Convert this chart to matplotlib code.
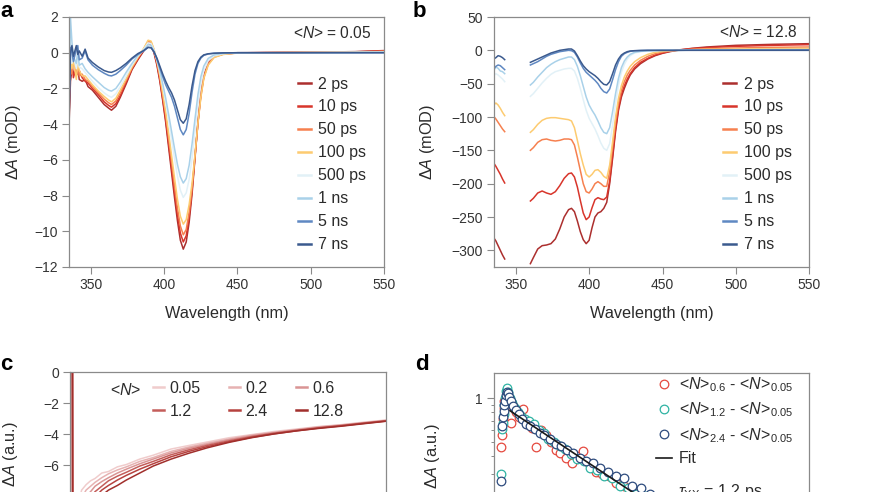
import numpy as np
import matplotlib
matplotlib.use('Agg')
import matplotlib.pyplot as plt
from matplotlib.ticker import FuncFormatter, NullFormatter, LogLocator

plt.rcParams['font.family'] = ['Liberation Sans', 'DejaVu Sans']
plt.rcParams['mathtext.fontset'] = 'custom'
plt.rcParams['mathtext.rm'] = 'Liberation Sans'
plt.rcParams['mathtext.it'] = 'Liberation Sans:italic'

# ---------------- panel a: <N> = 0.05 ----------------
wl_a = [335, 336, 337, 338, 340, 341, 342, 344, 346, 348, 351, 355, 359, 362, 364, 367, 370, 374, 378, 382,
        386, 389, 391, 393, 395, 397, 399, 401, 403, 405, 407, 409, 411, 413, 415, 417, 419, 421, 423, 425,
        427, 430, 434, 440, 450, 470, 500, 530, 550]
a_2ps = [-4.1, -1.6, -0.9, -1.1, -1.3, -0.9, -1.5, -1.6, -1.5, -1.9, -2.1, -2.5, -2.9, -3.1, -3.22, -3.0, -2.5, -1.75, -0.95, -0.4,
         0.1, 0.5, 0.45, 0.0, -0.7, -1.6, -2.7, -3.9, -5.3, -6.7, -8.1, -9.4, -10.5, -11.0, -10.6, -9.5, -7.9, -5.9, -3.9, -2.3,
         -1.3, -0.55, -0.2, -0.07, 0.0, 0.01, 0.03, 0.06, 0.12]
a_10ps = [-3.6, -1.2, -0.5, -1.4, -0.8, -1.2, -1.0, -1.4, -1.6, -1.7, -2.0, -2.35, -2.75, -2.95, -3.05, -2.85, -2.4, -1.65, -0.9, -0.35,
          0.15, 0.55, 0.5, 0.05, -0.6, -1.5, -2.6, -3.75, -5.1, -6.45, -7.8, -9.05, -10.1, -10.6, -10.25, -9.2, -7.7, -5.8, -3.9, -2.35,
          -1.35, -0.6, -0.22, -0.08, -0.01, 0.01, 0.03, 0.05, 0.1]
a_50ps = [-2.8, -0.8, -1.2, -0.5, -1.1, -0.7, -1.3, -1.2, -1.5, -1.6, -1.9, -2.25, -2.6, -2.8, -2.9, -2.7, -2.25, -1.55, -0.85, -0.3,
          0.2, 0.65, 0.6, 0.15, -0.5, -1.35, -2.4, -3.5, -4.8, -6.1, -7.45, -8.7, -9.7, -10.2, -9.9, -8.95, -7.6, -5.8, -3.95, -2.45,
          -1.4, -0.65, -0.25, -0.09, -0.01, 0.0, 0.02, 0.04, 0.08]
a_100ps = [-2.2, -0.3, -0.9, -0.4, -1.5, -0.6, -1.0, -1.3, -1.3, -1.5, -1.8, -2.15, -2.45, -2.65, -2.75, -2.55, -2.1, -1.45, -0.8, -0.25,
           0.25, 0.7, 0.65, 0.2, -0.45, -1.25, -2.25, -3.3, -4.5, -5.75, -7.0, -8.2, -9.15, -9.6, -9.35, -8.5, -7.3, -5.7, -3.95, -2.5,
           -1.45, -0.7, -0.27, -0.1, -0.02, 0.0, 0.02, 0.03, 0.06]
a_500ps = [-1.5, 0.5, -0.6, -0.2, -0.9, -0.3, -0.8, -0.9, -1.1, -1.3, -1.6, -1.95, -2.25, -2.42, -2.5, -2.3, -1.9, -1.3, -0.7, -0.2,
           0.2, 0.55, 0.5, 0.15, -0.4, -1.05, -1.9, -2.8, -3.8, -4.85, -5.9, -6.9, -7.7, -8.1, -7.85, -7.1, -5.9, -4.4, -2.9, -1.75,
           -1.0, -0.45, -0.18, -0.06, -0.01, 0.0, 0.01, 0.02, 0.04]
a_1ns = [-3.0, 2.0, 0.6, -0.2, -0.6, 0.1, -0.7, -0.6, -0.9, -1.1, -1.35, -1.65, -1.95, -2.1, -2.15, -2.0, -1.65, -1.1, -0.6, -0.15,
         0.15, 0.45, 0.42, 0.1, -0.4, -1.0, -1.75, -2.55, -3.45, -4.4, -5.35, -6.25, -6.95, -7.3, -7.05, -6.3, -5.1, -3.7, -2.35, -1.35,
         -0.75, -0.32, -0.12, -0.04, 0.0, 0.0, 0.01, 0.02, 0.03]
a_5ns = [-3.5, 0.3, 0.0, -0.5, 0.2, 0.4, -0.4, -0.3, 0.1, -0.4, -0.7, -0.95, -1.15, -1.27, -1.3, -1.2, -1.0, -0.7, -0.35, -0.1,
         0.1, 0.3, 0.28, 0.05, -0.35, -0.85, -1.35, -1.8, -2.15, -2.5, -3.0, -3.65, -4.3, -4.6, -4.3, -3.4, -2.2, -1.2, -0.6, -0.3,
         -0.15, -0.07, -0.03, -0.01, 0.0, 0.0, 0.0, 0.0, 0.0]
a_7ns = [-4.0, 0.0, 0.4, -0.2, 0.4, -0.1, 0.1, -0.2, 0.2, -0.3, -0.55, -0.8, -1.0, -1.08, -1.1, -1.0, -0.85, -0.6, -0.3, -0.05,
         0.12, 0.3, 0.28, 0.05, -0.3, -0.75, -1.2, -1.6, -1.95, -2.25, -2.65, -3.2, -3.75, -3.95, -3.7, -2.9, -1.85, -1.0, -0.5, -0.25,
         -0.12, -0.06, -0.03, -0.01, 0.0, 0.0, 0.0, 0.0, 0.0]

# ---------------- panel b: <N> = 12.8 (gap 343-360 nm) ----------------
wl_b = [335, 336.5, 338, 339.5, 341, 342.5, None,
        360, 362, 365, 368, 371, 374, 377, 380, 383, 386, 388, 390, 392, 394, 396, 398, 400, 402, 404, 406,
        408, 410, 412, 414, 416, 418, 420, 422, 424, 426, 428, 431, 435, 440, 445, 450, 455, 460, 470, 480,
        500, 525, 550]
b_2ps = [-281, -286, -293, -300, -307, -313, None,
         -320, -311, -298, -293, -292, -290, -283, -268, -250, -239, -237, -242, -256, -272, -284, -290, -285, -266, -250, -244,
         -242, -237, -228, -200, -162, -122, -90, -70, -57, -46, -37, -28, -20, -13, -8, -4.5, -2, 0, 3, 5,
         7.5, 9, 10]
b_10ps = [-169, -174, -180, -186, -193, -199, None,
          -226, -222, -214, -211, -214, -216, -212, -203, -192, -185, -184, -190, -205, -225, -244, -254, -250, -236, -224, -221,
          -223, -224, -220, -196, -158, -118, -87, -66, -53, -43, -35, -26, -18, -12, -7, -4, -1.5, 0.5, 2.5, 4,
          6, 7.5, 8.5]
b_50ps = [-99, -103, -108, -113, -118, -122, None,
          -150, -146, -138, -134, -133, -135, -136, -135, -133, -133, -134, -142, -160, -180, -200, -212, -214, -208, -200, -197,
          -200, -204, -204, -182, -145, -108, -80, -60, -47, -37, -30, -22, -15, -9, -5, -2.5, -1, 0, 1.5, 2.5,
          3.5, 4.5, 5]
b_100ps = [-82, -79, -82, -87, -93, -98, None,
           -123, -119, -111, -105, -102, -101, -101, -102, -103, -104, -106, -116, -135, -155, -172, -186, -190, -186, -180, -179,
           -183, -189, -192, -172, -137, -100, -72, -53, -40, -31, -24, -17, -11, -6, -3, -1.5, -0.5, 0, 1, 1.5,
           2, 2.5, 3]
b_500ps = [-38, -35, -37, -40, -43, -47, None,
           -69, -65, -57, -49, -42, -36, -32, -30, -28, -27, -27, -31, -42, -57, -74, -90, -102, -110, -118, -128,
           -139, -147, -150, -140, -112, -80, -52, -33, -21, -13, -8, -4, -2, -1, -0.5, 0, 0, 0, 0.5, 0.5,
           1, 1, 1]
b_1ns = [-30, -25, -27, -31, -32, -35, None,
         -52, -48, -40, -33, -26, -21, -17, -14, -12, -10, -10, -14, -24, -38, -54, -70, -82, -90, -97, -106,
         -116, -123, -125, -116, -92, -65, -42, -26, -16, -10, -6, -3, -1.5, -0.8, -0.4, 0, 0, 0, 0.3, 0.5,
         0.8, 1, 1]
b_5ns = [-28, -24, -22, -23, -26, -29, None,
         -22, -20, -17, -13, -9, -6, -4, -2, -1, 0, -0.5, -3, -10, -19, -27, -33, -37, -41, -45, -50,
         -57, -62, -64, -58, -44, -29, -17, -9, -5, -3, -1.5, -0.7, -0.3, 0, 0, 0, 0, 0, 0.2, 0.3,
         0.5, 0.6, 0.7]
b_7ns = [-13, -11, -8, -9, -11, -14, None,
         -18, -16, -13, -10, -7, -4, -2, 0, 1, 2, 2, -1, -8, -16, -23, -28, -32, -35, -38, -42,
         -47, -51, -52, -47, -35, -22, -13, -7, -4, -2, -1, -0.5, -0.2, 0, 0, 0, 0, 0, 0, 0,
         0, 0, 0]

delay_labels = ['2 ps', '10 ps', '50 ps', '100 ps', '500 ps', '1 ns', '5 ns', '7 ns']
delay_colors = ['#ac2f2e', '#d8352b', '#f6804f', '#fdcb70', '#e2f1f7', '#a9d1e9', '#5f88c2', '#3b5a8e']

# ---------------- panel c: kinetics vs <N> ----------------
t_c = [-60, -5, 0, 50, 100, 200, 300, 400, 500, 650, 800, 1000, 1200, 1500, 1800, 2200, 2600, 3000,
       3500, 4000, 4500, 5000, 5500, 6000, 6500, 7000]
c_005 = [0, 0, -10.5, -9.6, -8.8, -7.6, -7.25, -7.0, -6.85, -6.5, -6.4, -6.1, -5.95, -5.6, -5.35, -4.95, -4.72, -4.5,
         -4.22, -4.02, -3.82, -3.66, -3.5, -3.38, -3.22, -3.08]
c_02 = [0, 0, -10.8, -10.0, -9.2, -8.1, -7.6, -7.35, -7.1, -6.8, -6.55, -6.3, -6.1, -5.75, -5.5, -5.1, -4.82, -4.58,
        -4.3, -4.05, -3.87, -3.7, -3.52, -3.4, -3.25, -3.1]
c_06 = [0, 0, -11.0, -10.3, -9.6, -8.6, -8.0, -7.7, -7.35, -7.05, -6.8, -6.5, -6.25, -5.9, -5.6, -5.2, -4.9, -4.65,
        -4.35, -4.1, -3.9, -3.72, -3.55, -3.42, -3.27, -3.12]
c_12 = [0, 0, -11.2, -10.6, -10.0, -9.1, -8.5, -8.1, -7.7, -7.35, -7.0, -6.7, -6.45, -6.05, -5.75, -5.32, -5.0, -4.72,
        -4.42, -4.15, -3.93, -3.75, -3.58, -3.44, -3.28, -3.13]
c_24 = [0, 0, -11.4, -10.9, -10.4, -9.5, -8.9, -8.5, -8.05, -7.6, -7.3, -6.95, -6.65, -6.25, -5.9, -5.45, -5.1, -4.8,
        -4.48, -4.2, -3.97, -3.78, -3.6, -3.46, -3.3, -3.15]
c_128 = [0, 0, -11.6, -11.2, -10.8, -9.9, -9.3, -8.8, -8.35, -7.95, -7.6, -7.3, -6.95, -6.5, -6.05, -5.6, -5.22, -4.88,
         -4.52, -4.22, -3.98, -3.78, -3.62, -3.48, -3.32, -3.16]
n_labels = ['0.05', '0.2', '0.6', '1.2', '2.4', '12.8']
n_colors = ['#f0cccc', '#e6b2b2', '#d99494', '#c45d5a', '#b6423f', '#a12f2c']

# ---------------- panel d: difference kinetics ----------------
t_d06 = [0.09, 0.10, 0.11, 0.12, 0.13, 0.15, 0.17, 0.19, 0.21, 0.24, 0.27, 0.31, 0.36, 0.41, 0.47, 0.53, 0.59, 0.65,
         0.71, 0.77, 0.83, 0.90, 0.97, 1.04, 1.11, 1.19, 1.27, 1.35, 1.44, 1.53, 1.62, 1.72, 1.82, 1.93, 2.05, 2.2,
         2.4, 2.6, 2.8, 3.0]
v_d06 = [0.46, 0.56, 0.72, 0.85, 0.95, 1.02, 0.96, 0.92, 0.68, 0.88, 0.80, 0.74, 0.84, 0.66, 0.62, 0.46, 0.60, 0.56,
         0.50, 0.44, 0.42, 0.39, 0.36, 0.40, 0.43, 0.36, 0.31, 0.30, 0.29, 0.26, 0.25, 0.23, 0.22, 0.20, 0.19, 0.17,
         0.14, 0.12, 0.11, 0.09]
t_d12 = [0.09, 0.10, 0.11, 0.12, 0.13, 0.14, 0.15, 0.16, 0.18, 0.20, 0.23, 0.26, 0.30, 0.34, 0.39, 0.44, 0.50, 0.56,
         0.62, 0.68, 0.75, 0.82, 0.89, 0.96, 1.04, 1.12, 1.20, 1.29, 1.38, 1.47, 1.57, 1.67, 1.78, 1.89, 2.0, 2.2,
         2.4, 2.6, 2.8, 3.0]
v_d12 = [0.30, 0.61, 0.68, 0.78, 0.90, 1.00, 1.12, 1.18, 1.10, 1.00, 0.92, 0.85, 0.80, 0.76, 0.72, 0.70, 0.66, 0.60,
         0.58, 0.52, 0.50, 0.47, 0.45, 0.41, 0.38, 0.37, 0.33, 0.32, 0.29, 0.28, 0.25, 0.24, 0.22, 0.21, 0.19, 0.16,
         0.14, 0.12, 0.10, 0.09]
t_d24 = [0.09, 0.10, 0.11, 0.12, 0.13, 0.14, 0.15, 0.16, 0.17, 0.19, 0.21, 0.24, 0.27, 0.31, 0.35, 0.40, 0.45, 0.51,
         0.57, 0.63, 0.70, 0.77, 0.84, 0.91, 0.99, 1.07, 1.15, 1.24, 1.33, 1.42, 1.52, 1.62, 1.73, 1.84, 1.95, 2.1,
         2.3, 2.5, 2.7, 2.9]
v_d24 = [0.27, 0.64, 0.74, 0.82, 0.90, 0.96, 1.05, 1.10, 1.08, 1.02, 0.95, 0.88, 0.83, 0.78, 0.72, 0.66, 0.64, 0.61,
         0.58, 0.56, 0.52, 0.48, 0.47, 0.44, 0.42, 0.39, 0.37, 0.36, 0.33, 0.31, 0.29, 0.28, 0.25, 0.24, 0.22, 0.20,
         0.17, 0.15, 0.13, 0.11]
fit_t = [0.2, 3.9]
fit_v = [0.82, 0.036]

GRAY = '#8a8a8a'
TXT = '#2b2b2b'
LEG_FS = 11.5


def style(ax):
    for s in ax.spines.values():
        s.set_color(GRAY)
        s.set_linewidth(0.9)
    ax.tick_params(direction='out', length=5, width=0.8, color=GRAY,
                   labelsize=10, labelcolor='#333333', pad=3)
    ax.tick_params(which='minor', direction='out', length=2.5, width=0.7, color=GRAY)


def arr(v):
    return np.array(v, dtype=float)


fig = plt.figure(figsize=(8.7, 4.92), dpi=100)
W, H = 870.0, 492.0


def axes_px(left, top, right, bottom):
    return fig.add_axes([left / W, 1 - bottom / H, (right - left) / W, (bottom - top) / H])


def spectra_legend(ax):
    leg = ax.legend(loc='upper left', bbox_to_anchor=(0.726, 0.762), frameon=False, handlelength=0.85,
                    handletextpad=0.45, labelspacing=0.50, borderpad=0, borderaxespad=0, fontsize=LEG_FS)
    for h in leg.get_lines():
        h.set_linewidth(1.8)
    for t in leg.get_texts():
        t.set_color(TXT)


# ---- a ----
ax = axes_px(69, 17, 384, 267)
for y, c, lab in zip([a_2ps, a_10ps, a_50ps, a_100ps, a_500ps, a_1ns, a_5ns, a_7ns], delay_colors, delay_labels):
    ax.plot(arr(wl_a), arr(y), color=c, lw=1.1, label=lab)
ax.set_xlim(335, 550)
ax.set_ylim(-12, 2)
ax.set_xticks([350, 400, 450, 500, 550])
ax.set_yticks(range(-12, 3, 2))
style(ax)
ax.set_xlabel('Wavelength (nm)', fontsize=11.7, color=TXT)
ax.xaxis.set_label_coords(0.5, -0.155)
spectra_legend(ax)
ax.text(0.959, 0.936, r'<$\mathit{N}$> = 0.05', transform=ax.transAxes, ha='right', va='center',
        fontsize=11.2, color=TXT)
fig.text(14 / W, 1 - 142 / H, r'Δ$\mathit{A}$ (mOD)', rotation=90, ha='center', va='center',
         fontsize=11.7, color=TXT)

# ---- b ----
ax = axes_px(493.7, 17, 809.3, 267)
for y, c, lab in zip([b_2ps, b_10ps, b_50ps, b_100ps, b_500ps, b_1ns, b_5ns, b_7ns], delay_colors, delay_labels):
    ax.plot(arr(wl_b), arr(y), color=c, lw=1.1, label=lab)
ax.set_xlim(335, 550)
ax.set_ylim(-325, 50)
ax.set_xticks([350, 400, 450, 500, 550])
ax.set_yticks(range(-300, 51, 50))
style(ax)
ax.set_xlabel('Wavelength (nm)', fontsize=11.7, color=TXT)
ax.xaxis.set_label_coords(0.5, -0.155)
spectra_legend(ax)
ax.text(0.963, 0.94, r'<$\mathit{N}$> = 12.8', transform=ax.transAxes, ha='right', va='center',
        fontsize=11.2, color=TXT)
fig.text(428 / W, 1 - 142 / H, r'Δ$\mathit{A}$ (mOD)', rotation=90, ha='center', va='center',
         fontsize=11.7, color=TXT)

# ---- c ----
ax = axes_px(70, 372.3, 385.7, 558.3)
lines = []
for y, c, lab in zip([c_005, c_02, c_06, c_12, c_24, c_128], n_colors, n_labels):
    ln, = ax.plot(arr(t_c), arr(y), color=c, lw=1.1, label=lab)
    lines.append(ln)
ax.set_xlim(-60, 7000)
ax.set_ylim(-12, 0)
ax.set_yticks(range(-12, 1, 2))
style(ax)
ax.tick_params(labelbottom=False)
order = [0, 3, 1, 4, 2, 5]
leg = ax.legend([lines[i] for i in order], [n_labels[i] for i in order], ncol=3, loc='upper left',
                bbox_to_anchor=(0.263, 0.955), frameon=False, handlelength=0.7, handletextpad=0.35,
                columnspacing=1.75, labelspacing=0.5, borderpad=0, borderaxespad=0, fontsize=LEG_FS)
for h in leg.get_lines():
    h.set_linewidth(1.8)
for t in leg.get_texts():
    t.set_color(TXT)
ax.text(0.176, 0.905, r'<$\mathit{N}$>', transform=ax.transAxes, ha='center', va='center',
        fontsize=LEG_FS, color=TXT)
fig.text(11 / W, 1 - 421 / H, r'Normalized Δ$\mathit{A}$ (a.u.)', rotation=90, ha='center', va='top',
         fontsize=11.7, color=TXT)

# ---- d ----
ax = axes_px(494, 372.7, 809.3, 688.2)
ms = 6.2
ax.plot(t_d06, v_d06, 'o', ms=ms, mfc='white', mec='#e5493f', mew=0.9, ls='none',
        label=r'<$\mathit{N}$>$_{0.6}$ - <$\mathit{N}$>$_{0.05}$')
ax.plot(t_d12, v_d12, 'o', ms=ms, mfc='white', mec='#2fb3a3', mew=0.9, ls='none',
        label=r'<$\mathit{N}$>$_{1.2}$ - <$\mathit{N}$>$_{0.05}$')
ax.plot(t_d24, v_d24, 'o', ms=ms, mfc='white', mec='#2d4b7d', mew=0.9, ls='none',
        label=r'<$\mathit{N}$>$_{2.4}$ - <$\mathit{N}$>$_{0.05}$')
ax.plot(fit_t, fit_v, color='#1a1a1a', lw=1.2, label='Fit', zorder=5)
ax.set_yscale('log')
ax.set_xlim(0, 3.94)
ax.set_ylim(0.01, 1.5)
ax.yaxis.set_major_locator(LogLocator(base=10))
ax.yaxis.set_major_formatter(FuncFormatter(lambda v, p: f'{v:g}'))
ax.yaxis.set_minor_locator(LogLocator(base=10, subs=np.arange(2, 10)))
ax.yaxis.set_minor_formatter(NullFormatter())
style(ax)
ax.tick_params(labelbottom=False)
leg = ax.legend(loc='upper left', bbox_to_anchor=(0.513, 0.992), frameon=False, handlelength=1.0,
                handletextpad=0.45, labelspacing=0.42, borderpad=0, borderaxespad=0, fontsize=LEG_FS)
for t in leg.get_texts():
    t.set_color(TXT)
ax.text(0.5836, 0.622, r'$\tau_{\mathrm{XX}}$ = 1.2 ps', transform=ax.transAxes, ha='left', va='center',
        fontsize=LEG_FS, color=TXT)
fig.text(433 / W, 1 - 423 / H, r'Normalized Δ$\mathit{A}$ (a.u.)', rotation=90, ha='center', va='top',
         fontsize=11.7, color=TXT)

# panel letters
for x, y, s in [(0, 17, 'a'), (413, 17, 'b'), (0, 370, 'c'), (415, 370, 'd')]:
    fig.text(x / W, 1 - y / H, s, fontsize=16, fontweight='bold', va='baseline', ha='left', color='black')

fig.savefig('out.png', dpi=100)
